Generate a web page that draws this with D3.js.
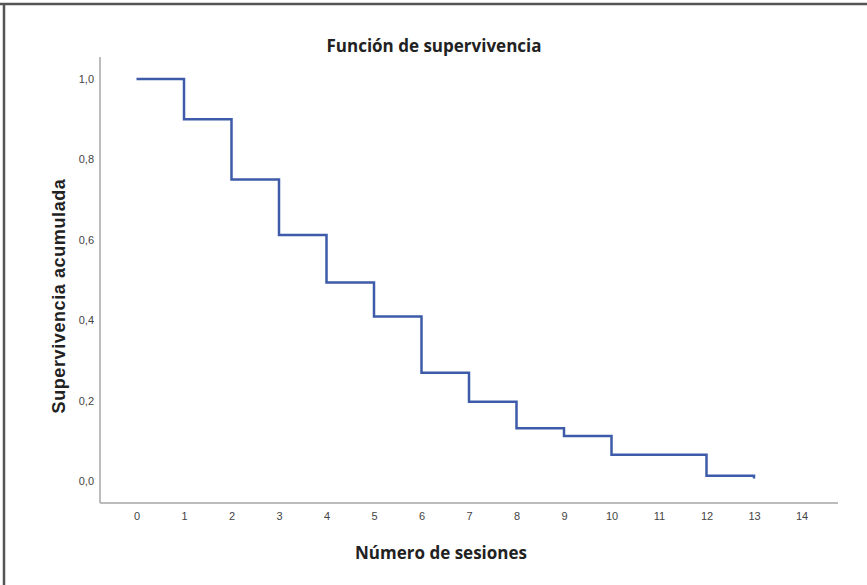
<!DOCTYPE html>
<html lang="es">
<head>
<meta charset="UTF-8" />
<title>Función de supervivencia</title>
<script src="https://d3js.org/d3.v7.min.js"></script>
<style>
  body { margin: 0; background: #fff; }
  svg { display: block; }
  .tick text { font-family: "Liberation Sans", Arial, sans-serif; font-size: 11px; fill: #444; }
</style>
</head>
<body>
<div id="chart"></div>
<script>
// sessions (time) and cumulative survival
const sessions = [0, 1, 2, 3, 4, 5, 6, 7, 8, 9, 10, 11, 12, 13];
const survival = [1.0, 0.9, 0.75, 0.612, 0.494, 0.409, 0.269, 0.197, 0.131, 0.112, 0.065, 0.065, 0.013, 0.006];
const xTicks = d3.range(0, 15);
const yTicks = [0, 0.2, 0.4, 0.6, 0.8, 1.0];

const width = 867, height = 585;

const svg = d3.select("#chart").append("svg")
  .attr("width", width)
  .attr("height", height);

// frame (top and left edges only)
svg.append("line").attr("x1", 0).attr("x2", width).attr("y1", 4).attr("y2", 4)
  .attr("stroke", "#555").attr("stroke-width", 2.5);
svg.append("line").attr("x1", 4).attr("x2", 4).attr("y1", 3).attr("y2", height)
  .attr("stroke", "#555").attr("stroke-width", 2.5);

const x = d3.scaleLinear().domain([0, 14]).range([136.5, 801.5]);
const y = d3.scaleLinear().domain([0, 1]).range([481, 79]);

const axisLeftX = 100, axisBottomY = 503;

// x axis
const gx = svg.append("g")
  .attr("transform", `translate(0,${axisBottomY})`)
  .call(d3.axisBottom(x).tickValues(xTicks).tickSize(0).tickPadding(9).tickFormat(d3.format("d")));
gx.select(".domain").remove();

// y axis
const gy = svg.append("g")
  .attr("transform", `translate(${axisLeftX},0)`)
  .call(d3.axisLeft(y).tickValues(yTicks).tickSize(0).tickPadding(6)
    .tickFormat(d => d3.format(".1f")(d).replace(".", ",")));
gy.select(".domain").remove();

// axis lines
svg.append("line")
  .attr("x1", axisLeftX).attr("x2", 838)
  .attr("y1", axisBottomY).attr("y2", axisBottomY)
  .attr("stroke", "#a6a6a6").attr("stroke-width", 1.5);
svg.append("line")
  .attr("x1", axisLeftX).attr("x2", axisLeftX)
  .attr("y1", 57).attr("y2", axisBottomY)
  .attr("stroke", "#a6a6a6").attr("stroke-width", 1.5);

// survival step curve
const pts = sessions.map((t, i) => [t, survival[i]]);
svg.append("path")
  .datum(pts)
  .attr("fill", "none")
  .attr("stroke", "#3d5ba9")
  .attr("stroke-width", 2.5)
  .attr("d", d3.line().x(d => x(d[0])).y(d => y(d[1])).curve(d3.curveStepAfter));

// titles
svg.append("text")
  .attr("x", 434).attr("y", 52)
  .attr("text-anchor", "middle")
  .style("font-family", "'Open Sans', sans-serif")
  .style("font-weight", "bold")
  .style("font-size", "17px")
  .style("fill", "#222")
  .text("Función de supervivencia");

svg.append("text")
  .attr("x", 441).attr("y", 559)
  .attr("text-anchor", "middle")
  .style("font-family", "'Open Sans', sans-serif")
  .style("font-weight", "bold")
  .style("font-size", "17px")
  .style("fill", "#222")
  .text("Número de sesiones");

svg.append("text")
  .attr("transform", "translate(65,296) rotate(-90)")
  .attr("text-anchor", "middle")
  .style("font-family", "'Liberation Sans', Arial, sans-serif")
  .style("font-weight", "bold")
  .style("font-size", "18px")
  .style("letter-spacing", "0.6px")
  .style("fill", "#222")
  .text("Supervivencia acumulada");
</script>
</body>
</html>
